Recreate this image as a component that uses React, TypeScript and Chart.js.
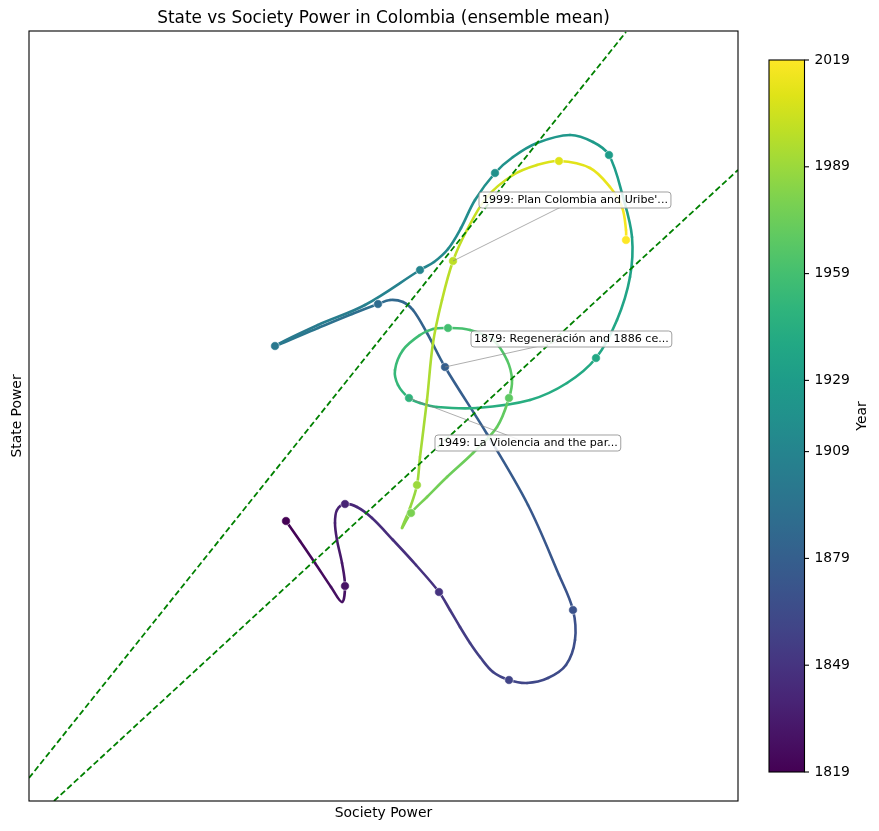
import React, { useEffect, useRef } from "react";
import { Chart, registerables } from "chart.js";

Chart.register(...registerables);

// ---- Data (arbitrary units) ----
const years = [
  1819, 1821.5, 1824, 1826.5, 1828, 1829, 1831, 1833, 1835, 1837, 1839, 1841, 1843, 1845, 1847, 1849,
  1851, 1853, 1855, 1856.5, 1858, 1859, 1861, 1863, 1865, 1867, 1869, 1871, 1874, 1877, 1879,
  1881, 1883, 1885, 1887, 1889, 1892, 1895, 1899, 1902, 1905, 1909, 1911, 1913, 1915, 1917, 1919,
  1921, 1923, 1925, 1927, 1929, 1931, 1933, 1935, 1937, 1939, 1941, 1943, 1945, 1947, 1948, 1949,
  1951, 1953, 1955, 1957, 1958, 1959, 1961, 1963, 1965, 1967, 1969, 1971, 1973, 1975, 1977, 1979,
  1983, 1986, 1989, 1991, 1993, 1995, 1997, 1999, 2001, 2003, 2005, 2007, 2009, 2011, 2013, 2015, 2017, 2019,
];
const societyPower = [
  25.7, 27.1, 28.6, 30.2, 31.3, 31.6, 31.3, 30.8, 30.6, 30.8, 31.6, 32.8, 34.3, 36.4, 38.7, 41.0,
  42.1, 43.1, 44.1, 45.1, 46.4, 48.0, 49.8, 51.9, 53.7, 54.6, 54.4, 53.0, 49.9, 45.8, 41.6,
  39.8, 38.4, 37.4, 36.1, 34.9, 32.3, 28.9, 24.6, 28.9, 33.6, 39.1, 40.5, 41.9, 43.2, 44.6, 46.6,
  48.4, 50.8, 54.1, 56.4, 58.0, 59.4, 60.3, 60.1, 58.8, 56.7, 53.8, 50.1, 44.8, 40.8, 39.1, 38.0,
  36.9, 36.6, 37.4, 39.1, 40.4, 41.9, 44.1, 46.4, 47.8, 48.3, 48.0, 46.8, 44.4, 41.8, 39.8, 38.2,
  37.3, 38.1, 38.8, 39.1, 39.8, 40.4, 41.3, 42.4, 43.8, 45.8, 48.4, 50.8, 53.0, 56.1, 58.1, 59.3, 59.7, 59.7,
];
const statePower = [
  28.0, 26.0, 23.8, 21.4, 19.9, 21.5, 23.8, 26.1, 27.8, 29.1, 29.7, 29.4, 28.3, 26.1, 23.6, 20.9,
  19.1, 17.4, 15.8, 14.4, 12.9, 12.1, 11.8, 12.3, 13.6, 16.1, 19.1, 22.6, 29.6, 36.7, 43.4,
  46.8, 49.1, 49.9, 50.1, 49.7, 48.7, 47.3, 45.5, 47.6, 49.6, 53.1, 53.9, 55.2, 57.3, 60.1, 62.8,
  64.4, 65.8, 66.6, 65.9, 64.6, 60.4, 56.4, 52.4, 48.1, 44.3, 41.8, 40.1, 39.3, 39.4, 39.8, 40.3,
  41.6, 43.1, 45.1, 46.6, 47.2, 47.3, 47.1, 46.1, 44.1, 42.1, 40.3, 37.4, 34.8, 32.4, 30.4, 28.8,
  27.3, 29.3, 31.6, 34.4, 40.1, 45.8, 50.1, 54.0, 57.1, 60.4, 62.6, 63.6, 64.0, 63.3, 61.4, 59.4, 57.1, 56.1,
];
const markerYears = [
  1819, 1829, 1839, 1849, 1859, 1869, 1879, 1889, 1899, 1909, 1919,
  1929, 1939, 1949, 1959, 1969, 1979, 1989, 1999, 2009, 2019,
];
const colorbarTicks = [1819, 1849, 1879, 1909, 1929, 1959, 1989, 2019];
const yearMin = 1819;
const yearMax = 2019;

const guide1X = [0, 59.7];
const guide1Y = [2.3, 76.9];
const guide2X = [2.5, 70.9];
const guide2Y = [0, 63.1];

const annotationYears = [1999, 1879, 1949];
const annotationTexts = [
  "1999: Plan Colombia and Uribe'...",
  "1879: Regeneración and 1886 ce...",
  "1949: La Violencia and the par...",
];

const xRange = [0, 70.9];
const yRange = [0, 77.0];

// ---- Styles ----
const annotationOffsets = [
  { dx: 26, dy: -61 },
  { dx: 26, dy: -28 },
  { dx: 26, dy: 45 },
];
const FONT = "'DejaVu Sans', 'Liberation Sans', sans-serif";

const VIRIDIS = [
  "#440154", "#471365", "#482475", "#463480", "#414487", "#3b528b", "#355f8d",
  "#2f6c8e", "#2a788e", "#25848e", "#21918c", "#1e9c89", "#22a884", "#2fb47c",
  "#44bf70", "#5ec962", "#7ad151", "#9bd93c", "#bddf26", "#dfe318", "#fde725",
];
function hexToRgb(h: string) {
  return [parseInt(h.slice(1, 3), 16), parseInt(h.slice(3, 5), 16), parseInt(h.slice(5, 7), 16)];
}
function viridis(t: number) {
  const c = Math.max(0, Math.min(1, t)) * (VIRIDIS.length - 1);
  const i = Math.min(Math.floor(c), VIRIDIS.length - 2);
  const f = c - i;
  const a = hexToRgb(VIRIDIS[i]);
  const b = hexToRgb(VIRIDIS[i + 1]);
  const r = a.map((v, k) => Math.round(v + (b[k] - v) * f));
  return `rgb(${r[0]},${r[1]},${r[2]})`;
}
const yearColor = (y: number) => viridis((y - yearMin) / (yearMax - yearMin));

export default function App() {
  const ref = useRef<HTMLCanvasElement | null>(null);

  useEffect(() => {
    if (!ref.current) return;
    const traj = years.map((_, i) => ({ x: societyPower[i], y: statePower[i] }));
    const markerIdx = markerYears.map((y) => years.indexOf(y));
    const markers = markerIdx.map((i) => ({ x: societyPower[i], y: statePower[i] }));

    const cb = { left: 769, right: 804.5, top: 60, bottom: 772 };

    const decor = {
      id: "decor",
      beforeDraw(chart: any) {
        const ctx = chart.ctx;
        ctx.save();
        ctx.fillStyle = "#ffffff";
        ctx.fillRect(0, 0, chart.width, chart.height);
        ctx.restore();
      },
      afterDatasetsDraw(chart: any) {
        const ctx = chart.ctx;
        const xs = chart.scales.x;
        const ys = chart.scales.y;
        ctx.save();
        ctx.font = `11.1px ${FONT}`;
        annotationYears.forEach((yr, k) => {
          const i = years.indexOf(yr);
          const px = xs.getPixelForValue(societyPower[i]);
          const py = ys.getPixelForValue(statePower[i]);
          const text = annotationTexts[k];
          const w = ctx.measureText(text).width + 6;
          const h = 16;
          const left = px + annotationOffsets[k].dx;
          const cy = py + annotationOffsets[k].dy;
          const top = cy - h / 2;
          ctx.strokeStyle = "rgba(128,128,128,0.8)";
          ctx.lineWidth = 0.8;
          ctx.beginPath();
          ctx.moveTo(px, py);
          ctx.lineTo(left + w / 2, cy);
          ctx.stroke();
          const r = 3;
          ctx.beginPath();
          ctx.moveTo(left + r, top);
          ctx.lineTo(left + w - r, top);
          ctx.quadraticCurveTo(left + w, top, left + w, top + r);
          ctx.lineTo(left + w, top + h - r);
          ctx.quadraticCurveTo(left + w, top + h, left + w - r, top + h);
          ctx.lineTo(left + r, top + h);
          ctx.quadraticCurveTo(left, top + h, left, top + h - r);
          ctx.lineTo(left, top + r);
          ctx.quadraticCurveTo(left, top, left + r, top);
          ctx.closePath();
          ctx.fillStyle = "rgba(255,255,255,0.85)";
          ctx.fill();
          ctx.strokeStyle = "rgba(150,150,150,0.9)";
          ctx.lineWidth = 1;
          ctx.stroke();
          ctx.fillStyle = "#000000";
          ctx.textBaseline = "middle";
          ctx.textAlign = "left";
          ctx.fillText(text, left + 3, cy + 0.5);
        });
        ctx.restore();
      },
      afterDraw(chart: any) {
        const ctx = chart.ctx;
        const a = chart.chartArea;
        ctx.save();
        ctx.strokeStyle = "#000";
        ctx.lineWidth = 1.1;
        ctx.strokeRect(a.left, a.top, a.right - a.left, a.bottom - a.top);
        ctx.fillStyle = "#000";
        ctx.textAlign = "center";
        ctx.textBaseline = "alphabetic";
        ctx.font = `16.9px ${FONT}`;
        ctx.fillText("State vs Society Power in Colombia (ensemble mean)", (a.left + a.right) / 2, 23);
        ctx.font = `13.9px ${FONT}`;
        ctx.textBaseline = "middle";
        ctx.fillText("Society Power", (a.left + a.right) / 2, 813);
        ctx.save();
        ctx.translate(17, (a.top + a.bottom) / 2);
        ctx.rotate(-Math.PI / 2);
        ctx.fillText("State Power", 0, 0);
        ctx.restore();
        const g = ctx.createLinearGradient(0, cb.bottom, 0, cb.top);
        VIRIDIS.forEach((c, i) => g.addColorStop(i / (VIRIDIS.length - 1), c));
        ctx.fillStyle = g;
        ctx.fillRect(cb.left, cb.top, cb.right - cb.left, cb.bottom - cb.top);
        ctx.strokeStyle = "#000";
        ctx.lineWidth = 1.1;
        ctx.strokeRect(cb.left, cb.top, cb.right - cb.left, cb.bottom - cb.top);
        ctx.fillStyle = "#000";
        ctx.textAlign = "left";
        ctx.textBaseline = "middle";
        ctx.font = `13.9px ${FONT}`;
        colorbarTicks.forEach((t) => {
          const y = cb.bottom - ((t - yearMin) / (yearMax - yearMin)) * (cb.bottom - cb.top);
          ctx.beginPath();
          ctx.moveTo(cb.right, y);
          ctx.lineTo(cb.right + 4.5, y);
          ctx.stroke();
          ctx.fillText(String(t), cb.right + 10, y);
        });
        ctx.save();
        ctx.translate(862, (cb.top + cb.bottom) / 2);
        ctx.rotate(-Math.PI / 2);
        ctx.textAlign = "center";
        ctx.fillText("Year", 0, 0);
        ctx.restore();
        ctx.restore();
      },
    };

    const chart = new Chart(ref.current, {
      type: "scatter",
      data: {
        datasets: [
          {
            label: "decades",
            data: markers,
            order: 0,
            showLine: false,
            pointRadius: 4.3,
            pointBackgroundColor: markerYears.map(yearColor),
            pointBorderColor: "rgba(255,255,255,0.9)",
            pointBorderWidth: 0.6,
          },
          {
            label: "guide1",
            data: guide1X.map((x, i) => ({ x, y: guide1Y[i] })),
            order: 1,
            showLine: true,
            pointRadius: 0,
            borderColor: "#008000",
            borderWidth: 1.8,
            borderDash: [6, 3],
          },
          {
            label: "guide2",
            data: guide2X.map((x, i) => ({ x, y: guide2Y[i] })),
            order: 1,
            showLine: true,
            pointRadius: 0,
            borderColor: "#008000",
            borderWidth: 1.8,
            borderDash: [6, 3],
          },
          {
            label: "trajectory",
            data: traj,
            order: 2,
            showLine: true,
            pointRadius: 0,
            borderWidth: 2.6,
            tension: 0.35,
            borderCapStyle: "round",
            borderJoinStyle: "round",
            borderColor: yearColor(yearMin),
            segment: {
              borderColor: (c: any) =>
                yearColor((years[c.p0DataIndex] + years[c.p1DataIndex]) / 2),
            },
          } as any,
        ],
      },
      options: {
        animation: false,
        responsive: false,
        devicePixelRatio: 1,
        layout: { padding: { left: 29, right: 141, top: 31, bottom: 30 } },
        scales: {
          x: { type: "linear", min: xRange[0], max: xRange[1], display: false },
          y: { type: "linear", min: yRange[0], max: yRange[1], display: false },
        },
        plugins: {
          legend: { display: false },
          tooltip: { enabled: false },
          title: { display: false },
        },
      },
      plugins: [decor],
    });
    return () => chart.destroy();
  }, []);

  return (
    <div style={{ position: "absolute", left: 0, top: 0, width: 879, height: 831 }}>
      <canvas ref={ref} width={879} height={831} style={{ display: "block" }} />
    </div>
  );
}
